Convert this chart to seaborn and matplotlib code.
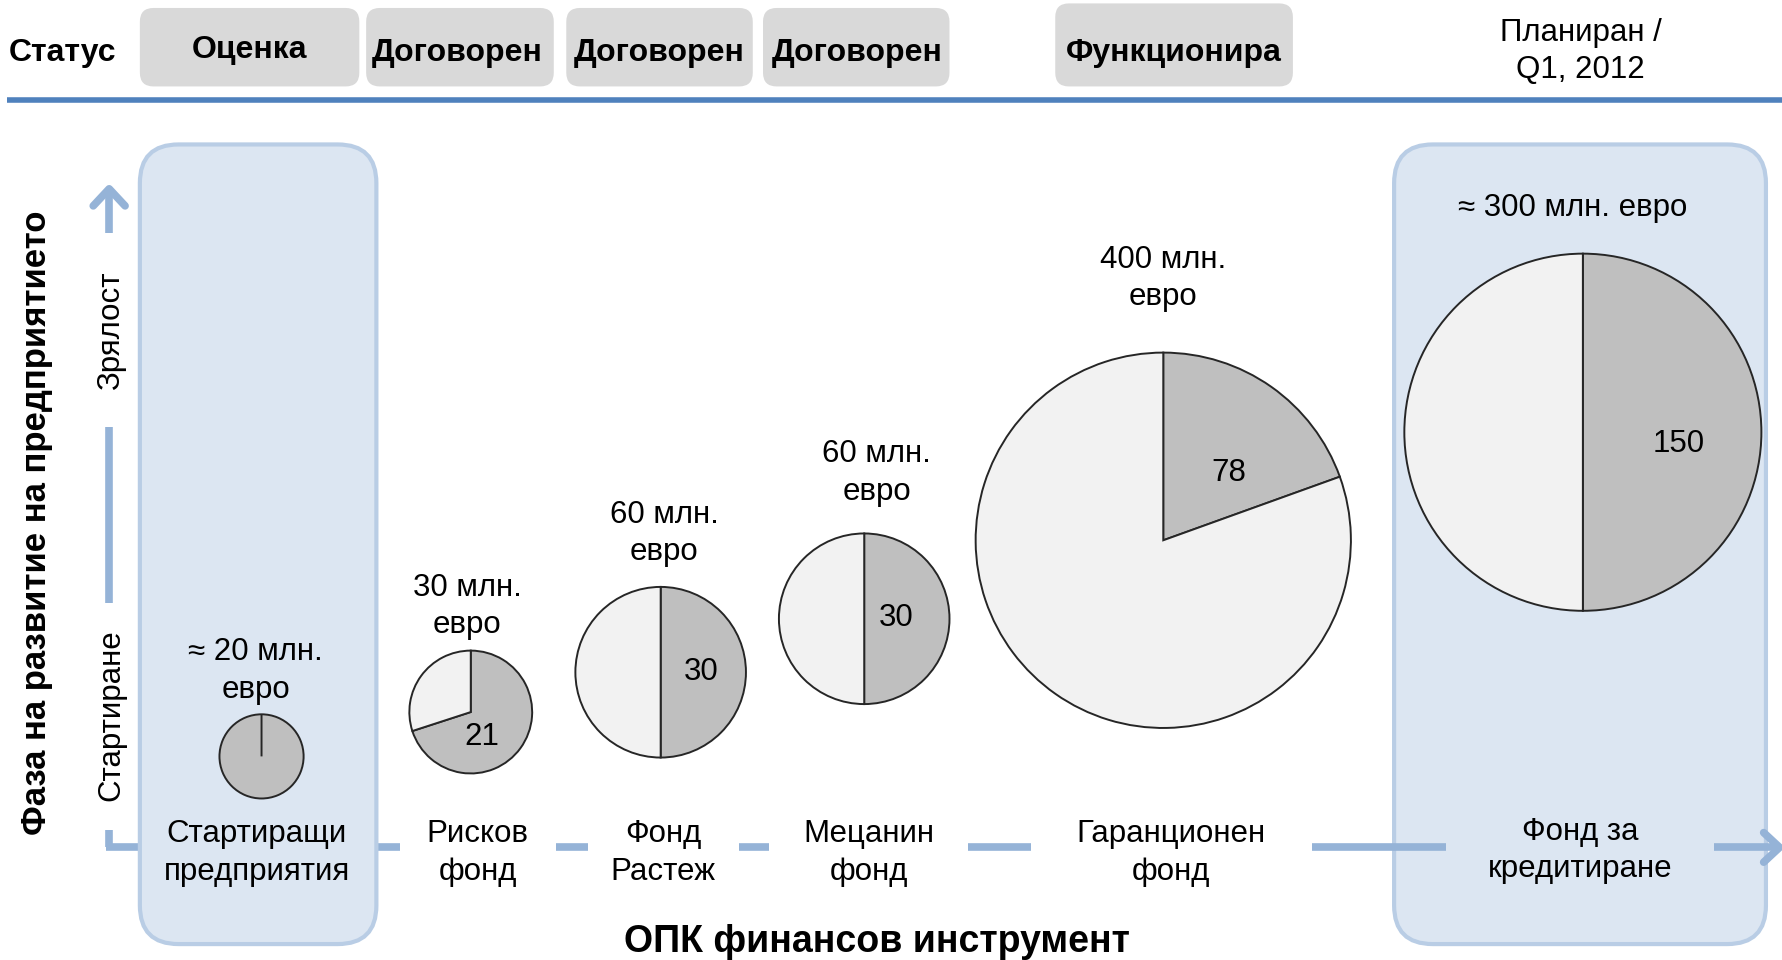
import matplotlib
matplotlib.use("Agg")
import matplotlib.pyplot as plt
from matplotlib.patches import FancyBboxPatch
import seaborn as sns

# ---------------- data ----------------
instruments = ["Стартиращи\nпредприятия", "Рисков\nфонд", "Фонд\nРастеж",
               "Мецанин\nфонд", "Гаранционен\nфонд", "Фонд за\nкредитиране"]
status = ["Оценка", "Договорен", "Договорен", "Договорен", "Функционира",
          "Планиран /\nQ1, 2012"]
total_size = [20, 30, 60, 60, 400, 300]
opk_share = [20, 21, 30, 30, 78, 150]
size_labels = ["≈ 20 млн.\nевро", "30 млн.\nевро", "60 млн.\nевро",
               "60 млн.\nевро", "400 млн.\nевро", "≈ 300 млн. евро"]
share_labels = ["", "21", "30", "30", "78", "150"]
stage_labels = ["Зрялост", "Стартиране"]
y_title = "Фаза на развитие на предприятието"
x_title = "ОПК финансов инструмент"
status_title = "Статус"

# ---------------- layout (image px, y measured from top) ----------------
W, H = 1568, 844
def Y(v):
    return H - v

pie_cx = [230, 414, 581, 760, 1023, 1392]
pie_cy = [665, 626, 591, 544, 475, 380]
pie_r = [37, 54, 75, 75, 165, 157]
title_xy = [(225, 590), (411, 533), (584, 469), (771, 416), (1023, 245), (1383, 183)]
share_off = [(0, 0), (0.185, -0.41), (0.48, 0.0), (0.37, 0.01), (0.35, 0.36), (0.535, -0.064)]
inst_xy = [(226, 750), (420, 750), (583, 750), (764, 750), (1030, 750), (1390, 748)]
status_boxes = [(123, 316, 7), (322, 487, 7), (498, 662, 7), (671, 835, 7), (928, 1137, 3)]
status_xy = [(219, 44), (402, 47), (580, 47), (754, 47), (1032, 47), (1390, 45)]

LIGHT = "#f2f2f2"
DARK = "#bfbfbf"
EDGE = "#262626"
ARROW = "#95b3d7"
HEADLINE = "#4f81bd"
BOXFILL = "#dce6f2"
BOXEDGE = "#b9cde5"
GRAYBOX = "#d9d9d9"

sns.set_theme(style="white")
plt.rcParams["font.family"] = ["Liberation Sans", "DejaVu Sans"]
plt.rcParams["text.color"] = "black"

fig = plt.figure(figsize=(17.83, 9.60), dpi=100)
ax = fig.add_axes([0, 0, 1, 1])
ax.set_xlim(0, W)
ax.set_ylim(0, H)
ax.axis("off")

FS = 22.5
FSB = 23
LS = 1.32

# light blue rounded panels
panelA = FancyBboxPatch((123, Y(830)), 331 - 123, 830 - 127,
                        boxstyle="round,pad=0,rounding_size=34",
                        facecolor=BOXFILL, edgecolor=BOXEDGE, linewidth=3, zorder=3)
panelB = FancyBboxPatch((1226, Y(830)), 1553 - 1226, 830 - 127,
                        boxstyle="round,pad=0,rounding_size=34",
                        facecolor=BOXFILL, edgecolor=BOXEDGE, linewidth=3, zorder=0.5)
ax.add_patch(panelA)
ax.add_patch(panelB)

# axis arrows (light blue)
lw_arrow = 5.5
vert_segments = [(166, 205), (375, 530), (730, 745)]
for y0, y1 in vert_segments:
    ax.plot([96, 96], [Y(y0), Y(y1)], color=ARROW, lw=lw_arrow, solid_capstyle="butt", zorder=1)
ax.plot([82, 96, 110], [Y(181), Y(166), Y(181)], color=ARROW, lw=lw_arrow,
        solid_capstyle="round", solid_joinstyle="round", zorder=1)
hor_segments = [(93, 123), (331, 352), (489, 517), (650, 676), (851, 907), (1154, 1272), (1507, 1564)]
for x0, x1 in hor_segments:
    ax.plot([x0, x1], [Y(745), Y(745)], color=ARROW, lw=lw_arrow, solid_capstyle="butt", zorder=1)
ax.plot([1551, 1565, 1551], [Y(732), Y(745), Y(758)], color=ARROW, lw=lw_arrow,
        solid_capstyle="round", solid_joinstyle="round", zorder=1)

# header
ax.plot([6, W], [Y(88), Y(88)], color=HEADLINE, lw=4, solid_capstyle="butt", zorder=1)
for (x0, x1, y0) in status_boxes:
    ax.add_patch(FancyBboxPatch((x0, Y(76)), x1 - x0, 76 - y0,
                                boxstyle="round,pad=0,rounding_size=12",
                                facecolor=GRAYBOX, edgecolor="none", zorder=1))
ax.text(8, Y(47), status_title, fontsize=FSB, fontweight="bold", ha="left", va="center")
for i, (txt, (x, y)) in enumerate(zip(status, status_xy)):
    ax.text(x, Y(y), txt, fontsize=FSB if i < 5 else FS,
            fontweight="bold" if i < 5 else "normal",
            ha="center", va="center", linespacing=LS, zorder=4)

# pies
for i in range(len(total_size)):
    cx, cy, r = pie_cx[i], Y(pie_cy[i]), pie_r[i]
    ax.pie([opk_share[i], total_size[i] - opk_share[i]], colors=[DARK, LIGHT],
           startangle=90, counterclock=False, center=(cx, cy), radius=r,
           frame=True, wedgeprops=dict(edgecolor=EDGE, linewidth=1.4, zorder=5))
    if share_labels[i]:
        fx, fy = share_off[i]
        ax.text(cx + fx * r, cy + fy * r, share_labels[i], fontsize=FS,
                ha="center", va="center", zorder=6)
    tx, ty = title_xy[i]
    ax.text(tx, Y(ty), size_labels[i], fontsize=FS, ha="center", va="center",
            linespacing=LS, zorder=6)

# instrument labels
for txt, (x, y) in zip(instruments, inst_xy):
    ax.text(x, Y(y), txt, fontsize=FS, ha="center", va="center", linespacing=LS, zorder=6)

# stage labels and titles
ax.text(98, Y(291), stage_labels[0], fontsize=FS, rotation=90, ha="center", va="center")
ax.text(98, Y(629), stage_labels[1], fontsize=FS, rotation=90, ha="center", va="center")
ax.text(32, Y(460), y_title, fontsize=25, fontweight="bold", rotation=90,
        ha="center", va="center")
ax.text(771, Y(828), x_title, fontsize=27, fontweight="bold", ha="center", va="center")

ax.set_xlim(0, W)
ax.set_ylim(0, H)
ax.set_aspect("auto")
fig.savefig("out.png", dpi=100)
